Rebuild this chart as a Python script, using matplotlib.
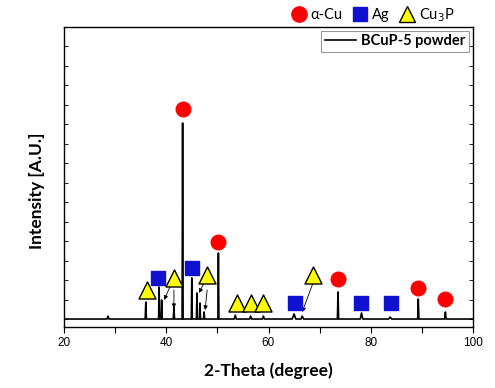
import numpy as np
import matplotlib
matplotlib.use('Agg')
from matplotlib import pyplot as plt
from matplotlib.lines import Line2D

# пики (2theta, интенсивность)
peak_pos = [28.6, 36.0, 38.6, 39.1, 41.5, 43.2, 45.0, 46.0, 46.6, 47.4, 50.2,
            53.5, 56.5, 59.0, 65.0, 66.6, 73.6, 78.2, 83.8, 89.3, 94.6]
peak_int = [0.15, 0.87, 1.64, 0.98, 0.62, 10.07, 2.11, 1.34, 0.82, 0.36, 3.39,
            0.2, 0.15, 0.15, 0.26, 0.15, 1.39, 0.31, 0.1, 1.03, 0.36]
peak_hw = [0.2, 0.12, 0.1, 0.1, 0.12, 0.1, 0.1, 0.1, 0.1, 0.12, 0.1,
           0.2, 0.2, 0.2, 0.35, 0.25, 0.12, 0.25, 0.3, 0.12, 0.15]

# маркеры фаз
cu_x = [43.2, 50.1, 73.6, 89.3, 94.6]
cu_y = [10.79, 3.95, 2.05, 1.59, 1.03]
ag_x = [38.4, 45.0, 65.2, 78.1, 84.0]
ag_y = [2.11, 2.62, 0.82, 0.82, 0.82]
cu3p_x = [36.2, 41.5, 48.0, 53.8, 56.6, 59.0, 68.7]
cu3p_y = [1.49, 2.11, 2.26, 0.82, 0.82, 0.82, 2.26]

# стрелки: (откуда), (куда)
arrows = [((40.7, 1.64), (39.6, 0.98)),
          ((41.5, 1.49), (41.5, 0.56)),
          ((47.4, 1.85), (46.4, 1.34)),
          ((48.0, 1.49), (47.6, 0.46)),
          ((68.7, 1.85), (66.6, 0.36))]

xs = [20.0]
ys = [0.0]
for p, h, w in zip(peak_pos, peak_int, peak_hw):
    xs += [p - w, p, p + w]
    ys += [0.0, h, 0.0]
xs.append(100.0)
ys.append(0.0)

fig = plt.figure(figsize=(4.95, 3.88), dpi=100)
ax = fig.add_axes([64 / 495, 61 / 388, 409 / 495, 300 / 388])

ax.plot(xs, ys, color='black', lw=1.2, label='BCuP-5 powder')

ax.scatter(cu_x, cu_y, s=110, marker='o', color='#ff0000', zorder=5)
ax.scatter(ag_x, ag_y, s=110, marker='s', color='#1010d0', zorder=5)
ax.scatter(cu3p_x, cu3p_y, s=150, marker='^', color='#ffff00',
           edgecolors='black', linewidths=1.0, zorder=5)

for (x0, y0), (x1, y1) in arrows:
    ax.annotate('', xy=(x1, y1), xytext=(x0, y0),
                arrowprops=dict(arrowstyle='-|>', lw=0.6, color='black',
                                mutation_scale=6, shrinkA=0, shrinkB=0))

ax.set_xlim(20, 100)
ax.set_ylim(-0.41, 15.0)
ax.set_xticks([20, 40, 60, 80, 100])
ax.set_xticks([30, 50, 70, 90], minor=True)
ax.set_yticks(np.arange(0, 16))
ax.set_yticklabels([])
ax.tick_params(axis='y', direction='in', left=True, right=True, length=3, width=0.6)
ax.tick_params(axis='x', which='both', direction='out', length=4, width=0.8,
               labelsize=8.5, pad=3)
for lbl in ax.get_xticklabels():
    lbl.set_fontfamily('Liberation Sans')
for s in ax.spines.values():
    s.set_linewidth(1.0)

ax.set_xlabel('2-Theta (degree)', fontsize=12.5, fontweight='bold', family='Lato')
ax.xaxis.set_label_coords(0.5, -35 / 300)
ax.set_ylabel('Intensity [A.U.]', fontsize=12.5, fontweight='bold', family='Lato')
ax.yaxis.set_label_coords(-19 / 409, 0.453)

leg = ax.legend(loc='upper right', fancybox=False, edgecolor='gray', handlelength=2.1,
                handletextpad=0.4,
                prop={'family': 'Lato', 'weight': 'bold', 'size': 10.5},
                borderaxespad=0.25, borderpad=0.25)
leg.get_frame().set_linewidth(0.8)

handles = [Line2D([], [], marker='o', ls='', color='#ff0000', markersize=11),
           Line2D([], [], marker='s', ls='', color='#1010d0', markersize=10),
           Line2D([], [], marker='^', ls='', markerfacecolor='#ffff00',
                  markeredgecolor='black', markersize=12)]
fig.legend(handles, ['α-Cu', 'Ag', 'Cu$_3$P'], loc='center', ncol=3,
           bbox_to_anchor=(372 / 495, 1 - 15 / 388), frameon=False,
           handletextpad=0.2, columnspacing=0.6, handlelength=1.2,
           prop={'family': 'Lato', 'size': 10.5})

fig.savefig('out.png', dpi=100)
